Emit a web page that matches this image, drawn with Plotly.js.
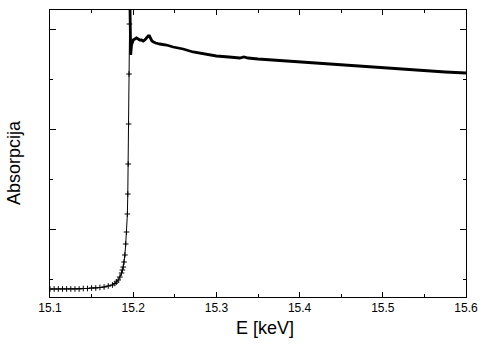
<!DOCTYPE html>
<html>
<head>
<meta charset="utf-8">
<script src="https://cdn.plot.ly/plotly-3.0.1.min.js"></script>
<style>html,body{margin:0;padding:0;background:#fff;}</style>
</head>
<body>
<div id="chart" style="width:494px;height:351px;"></div>
<script>
// Pre-edge and edge region (E in keV, absorption in arbitrary units)
const preE = [15.100,15.105,15.110,15.115,15.120,15.125,15.130,15.135,15.140,15.145,15.150,15.155,15.160,15.165,15.170,15.175,15.178,15.180,15.182,15.184,15.186,15.187,15.188,15.189,15.190,15.191,15.192,15.193,15.1935,15.194,15.1945,15.195,15.1955,15.196];
const preMu = [0.40,0.40,0.40,0.40,0.40,0.40,0.40,0.40,0.405,0.405,0.41,0.41,0.415,0.42,0.43,0.44,0.455,0.47,0.49,0.52,0.56,0.59,0.62,0.67,0.74,0.85,0.97,1.15,1.35,1.65,2.05,2.55,3.05,3.30];
// Post-edge region
const postE = [15.196,15.1965,15.197,15.198,15.200,15.202,15.204,15.206,15.208,15.210,15.212,15.214,15.216,15.218,15.2195,15.221,15.2225,15.2245,15.227,15.232,15.240,15.248,15.260,15.272,15.288,15.300,15.315,15.328,15.333,15.338,15.350,15.375,15.400,15.425,15.450,15.475,15.500,15.525,15.550,15.575,15.600];
const postMu = [3.30,2.95,2.74,2.84,2.89,2.90,2.91,2.90,2.89,2.89,2.88,2.89,2.91,2.93,2.93,2.90,2.88,2.87,2.86,2.85,2.84,2.82,2.80,2.77,2.75,2.73,2.72,2.71,2.72,2.71,2.70,2.685,2.67,2.655,2.64,2.625,2.61,2.595,2.58,2.57,2.56];

const xTicks = [15.1,15.2,15.3,15.4,15.5,15.6];
const xTickText = ['15.1','15.2','15.3','15.4','15.5','15.6'];
const xTitle = 'E [keV]';
const yTitle = 'Absorpcija';

const traces = [
  {x: preE, y: preMu, mode: 'lines+markers', type: 'scatter',
   line: {color: '#000', width: 1},
   marker: {symbol: 'cross-thin', size: 4, color: '#000', line: {color: '#000', width: 1}},
   hoverinfo: 'skip', showlegend: false},
  {x: postE, y: postMu, mode: 'lines', type: 'scatter',
   line: {color: '#000', width: 2.8},
   hoverinfo: 'skip', showlegend: false}
];

const FONT = 'Liberation Sans, Arial, sans-serif';
const layout = {
  width: 494, height: 351,
  margin: {l: 50, r: 28, t: 10, b: 54},
  paper_bgcolor: '#fff', plot_bgcolor: '#fff',
  font: {family: FONT, color: '#000', size: 12},
  xaxis: {
    range: [15.1, 15.6], tickmode: 'array', tickvals: xTicks, ticktext: xTickText,
    ticks: 'inside', ticklen: 5, tickwidth: 1, tickcolor: '#000',
    minor: {dtick: 0.05, tick0: 15.1, ticks: 'inside', ticklen: 3, tickcolor: '#000', showgrid: false},
    showline: true, linecolor: '#000', linewidth: 1, mirror: 'ticks',
    showgrid: false, zeroline: false,
    tickfont: {size: 12, family: FONT}
  },
  yaxis: {
    range: [0.32, 3.19], tick0: 0, dtick: 1,
    ticks: 'inside', ticklen: 6, tickwidth: 1, tickcolor: '#000',
    minor: {dtick: 0.5, tick0: 0, ticks: 'inside', ticklen: 3, tickcolor: '#000', showgrid: false},
    showticklabels: false,
    showline: true, linecolor: '#000', linewidth: 1, mirror: 'ticks',
    showgrid: false, zeroline: false
  },
  annotations: [
    {text: xTitle, xref: 'paper', yref: 'paper', x: 0.517, y: -0.108,
     xanchor: 'center', yanchor: 'middle', showarrow: false,
     font: {size: 18, family: FONT, color: '#000'}},
    {text: yTitle, xref: 'paper', yref: 'paper', x: -0.087, y: 0.47,
     xanchor: 'center', yanchor: 'middle', showarrow: false, textangle: -90,
     font: {size: 18, family: FONT, color: '#000'}}
  ]
};

Plotly.newPlot('chart', traces, layout, {displayModeBar: false, staticPlot: true});
</script>
</body>
</html>
